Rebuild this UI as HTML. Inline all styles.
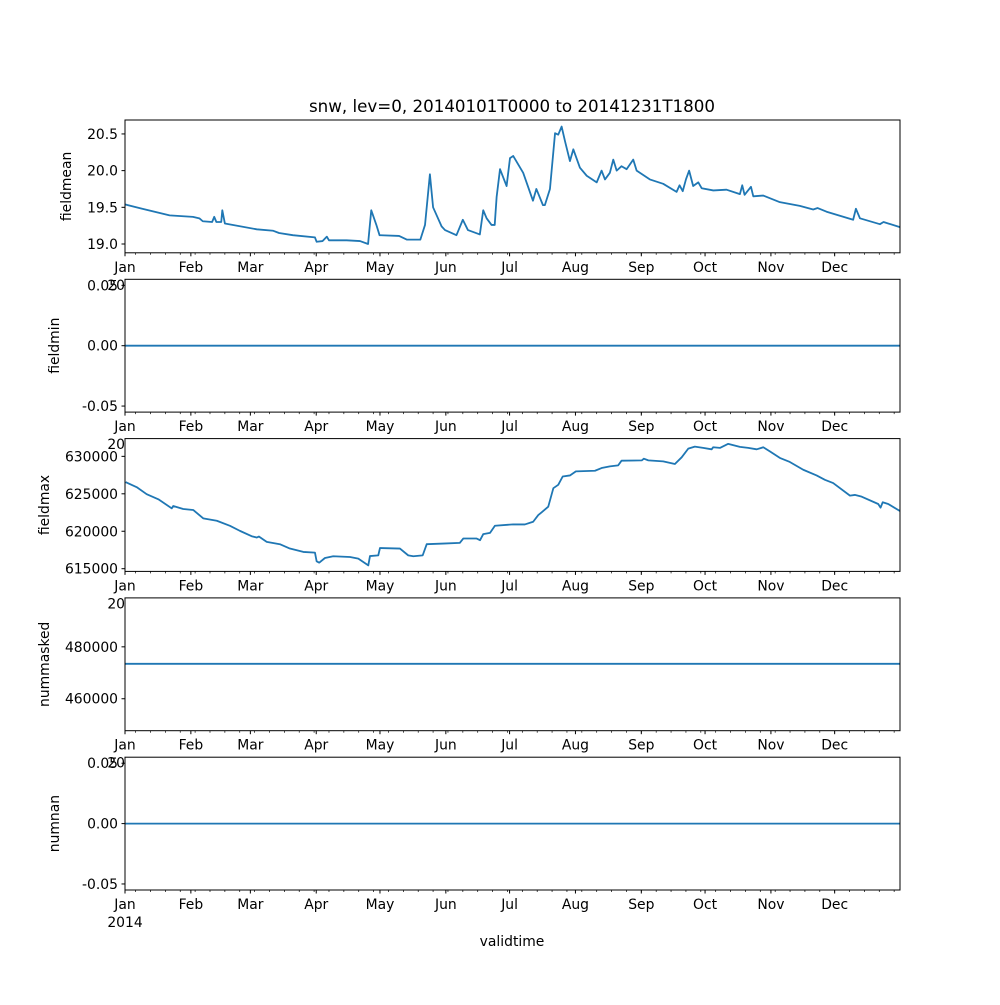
<!DOCTYPE html>
<html><head><meta charset="utf-8"><style>
html,body{margin:0;padding:0;background:#fff}
svg text{font-family:"DejaVu Sans","Liberation Sans",sans-serif;fill:#000}
</style></head><body>
<svg id="fig" width="1000" height="1000" viewBox="0 0 1000 1000" xmlns="http://www.w3.org/2000/svg">
<rect width="1000" height="1000" fill="#fff"/>
</svg>
<script>
// ---- data (x = day of year 2014, 0 = Jan 1) ----
const meanDays=[0,8.1,21,32,35,36.6,41,42,43,45.3,45.8,47,62,69.8,72.5,79,89.4,90.2,93,95,96,104.3,110.6,114.4,115.9,118.3,119.8,129,132.6,139,141.2,143.5,145,149,150.6,156,159,161.4,167,168.6,170.2,172.5,174,174.9,176.5,179.6,181.2,182.7,187.4,192,193.6,196.7,197.6,200,202.4,203.9,205.5,207.1,209.4,211,214.1,217.3,222,224.3,225.9,228.2,229.8,231.4,233.7,236.1,239.2,240.8,247,253.3,259.6,261,262.5,264,265.5,267.4,269.8,271.4,276.9,283.1,289.4,290.5,291.6,294.6,295.7,300.4,308.2,317.6,323.9,326,330.2,342.7,344,345.9,355.3,357,364.7];
const meanVals=[19.54,19.48,19.39,19.37,19.35,19.31,19.30,19.37,19.30,19.30,19.46,19.28,19.20,19.18,19.15,19.12,19.09,19.03,19.04,19.10,19.05,19.05,19.04,19.00,19.46,19.26,19.12,19.11,19.06,19.06,19.26,19.95,19.5,19.24,19.19,19.12,19.33,19.19,19.13,19.46,19.35,19.26,19.26,19.64,20.02,19.79,20.17,20.2,19.97,19.59,19.75,19.53,19.53,19.75,20.51,20.49,20.6,20.4,20.13,20.29,20.04,19.93,19.84,20.0,19.88,19.97,20.15,20.0,20.06,20.02,20.15,20.0,19.88,19.82,19.71,19.80,19.72,19.88,20.0,19.79,19.84,19.76,19.73,19.74,19.68,19.80,19.67,19.78,19.65,19.66,19.57,19.52,19.47,19.49,19.44,19.33,19.48,19.35,19.27,19.30,19.23];
const maxDays=[0.3,5.5,10.2,15.7,22,22.7,27.4,32.1,36.8,43.2,49.4,54.1,59.6,62,63,66.7,72.9,77.6,83.9,89.4,90.2,91.4,94.1,98,105.9,109.8,114.5,115.3,119.2,120,129.4,133.3,135.7,140.1,142,149.8,157.6,159.2,165.5,167.1,168.6,171.8,174.1,182.7,188.2,192.1,194.5,196.1,199.2,201.6,203.9,206,209.4,212.2,221.2,224.3,228.2,232.1,233.7,243.2,244.2,246.3,253.3,258.8,262,265.1,268.2,272.1,276.1,276.8,280,283.9,289.4,293.3,297.3,300.4,303.5,308.2,312.9,319.2,325.5,329.4,333.3,341.2,343.5,346.7,354.5,355.6,356.6,359.2,364.7];
const maxVals=[626560,625890,624950,624270,623060,623370,622970,622840,621720,621400,620730,620050,619340,619160,619300,618580,618270,617690,617240,617150,615980,615810,616430,616660,616560,616340,615440,616690,616780,617760,617690,616780,616660,616780,618270,618360,618450,619030,619030,618810,619610,619790,620730,620920,620910,621270,622160,622530,623280,625750,626200,627310,627450,627990,628080,628440,628660,628790,629420,629460,629690,629460,629330,628980,629870,631030,631300,631130,630940,631210,631130,631670,631260,631130,630940,631210,630670,629790,629250,628210,627450,626870,626430,624760,624850,624620,623640,623150,623870,623640,622700];
const minVal=0, nummaskedVal=473450, numnanVal=0;
const monthNames=["Jan","Feb","Mar","Apr","May","Jun","Jul","Aug","Sep","Oct","Nov","Dec"];
const monthDays=[0,31,59,90,120,151,181,212,243,273,304,334];

const svg=document.getElementById('fig');
const NS="http://www.w3.org/2000/svg";
function mk(tag,attrs,parent){const e=document.createElementNS(NS,tag);for(const k in attrs)e.setAttribute(k,attrs[k]);(parent||svg).appendChild(e);return e;}
const X0=125,X1=900,XMAX=364.75;
const xs=d=>X0+(d/XMAX)*(X1-X0);

const panels=[
 {name:'fieldmean',top:120,lo:18.88,hi:20.69,ticks:[19.0,19.5,20.0,20.5],fmt:v=>v.toFixed(1),lx:71},
 {name:'fieldmin',top:279.3,lo:-0.055,hi:0.055,ticks:[-0.05,0,0.05],fmt:v=>v.toFixed(2),lx:59},
 {name:'fieldmax',top:438.6,lo:614640,hi:632370,ticks:[615000,620000,625000,630000],fmt:v=>String(v),lx:49},
 {name:'nummasked',top:597.9,lo:447690,hi:498850,ticks:[460000,480000],fmt:v=>String(v),lx:49},
 {name:'numnan',top:757.2,lo:-0.055,hi:0.055,ticks:[-0.05,0,0.05],fmt:v=>v.toFixed(2),lx:59}
];
const H=132.8;
panels.forEach((p,i)=>{
  const g=mk('g',{});
  
  
  const bot=p.top+H;
  const ys=v=>bot-(v-p.lo)/(p.hi-p.lo)*H;
  mk('rect',{x:X0,y:p.top,width:X1-X0,height:H,fill:'#fff'},g);
  let pts;
  if(p.name==='fieldmean') pts=meanDays.map((d,j)=>xs(d).toFixed(2)+','+ys(meanVals[j]).toFixed(2));
  else if(p.name==='fieldmax') pts=maxDays.map((d,j)=>xs(d).toFixed(2)+','+ys(maxVals[j]).toFixed(2));
  else {const v=p.name==='fieldmin'?minVal:p.name==='nummasked'?nummaskedVal:numnanVal; pts=[xs(0)+','+ys(v),xs(XMAX)+','+ys(v)];}
  const line=mk('polyline',{points:pts.join(' '),fill:'none',stroke:'#1f77b4','stroke-width':1.8,'stroke-linejoin':'round'},g);
  
  
  mk('rect',{x:X0,y:p.top,width:X1-X0,height:H,fill:'none',stroke:'#000','stroke-width':1},g);
  p.ticks.forEach(t=>{
    const y=ys(t);
    mk('line',{x1:X0-3.5,x2:X0,y1:y,y2:y,stroke:'#000','stroke-width':1},g);
    const tx=mk('text',{x:X0-7,y:y+5,'text-anchor':'end','font-size':13.9},g);
    tx.textContent=p.fmt(t);
  });
  const yl=mk('text',{x:p.lx,y:p.top+H/2,'text-anchor':'middle','font-size':13.9,transform:`rotate(-90 ${p.lx} ${p.top+H/2})`},g);
  
  
  yl.textContent=p.name;
  for(let d=5;d<=XMAX;d+=7){mk('line',{x1:xs(d),x2:xs(d),y1:bot,y2:bot+2,stroke:'#000','stroke-width':0.7},g);}
  monthDays.forEach((d,j)=>{
    mk('line',{x1:xs(d),x2:xs(d),y1:bot,y2:bot+3.5,stroke:'#000','stroke-width':1},g);
    const t=mk('text',{x:xs(d),y:bot+19,'text-anchor':'middle','font-size':13.9},g);
    t.textContent=monthNames[j];
  });
  const yr=mk('text',{x:X0,y:bot+37,'text-anchor':'middle','font-size':13.9},g);
  yr.textContent='2014';
});
const title=mk('text',{x:512,y:112,'text-anchor':'middle','font-size':16.7});


title.textContent='snw, lev=0, 20140101T0000 to 20141231T1800';
const xl=mk('text',{x:512,y:946,'text-anchor':'middle','font-size':13.9});


xl.textContent='validtime';
</script>
</body></html>
